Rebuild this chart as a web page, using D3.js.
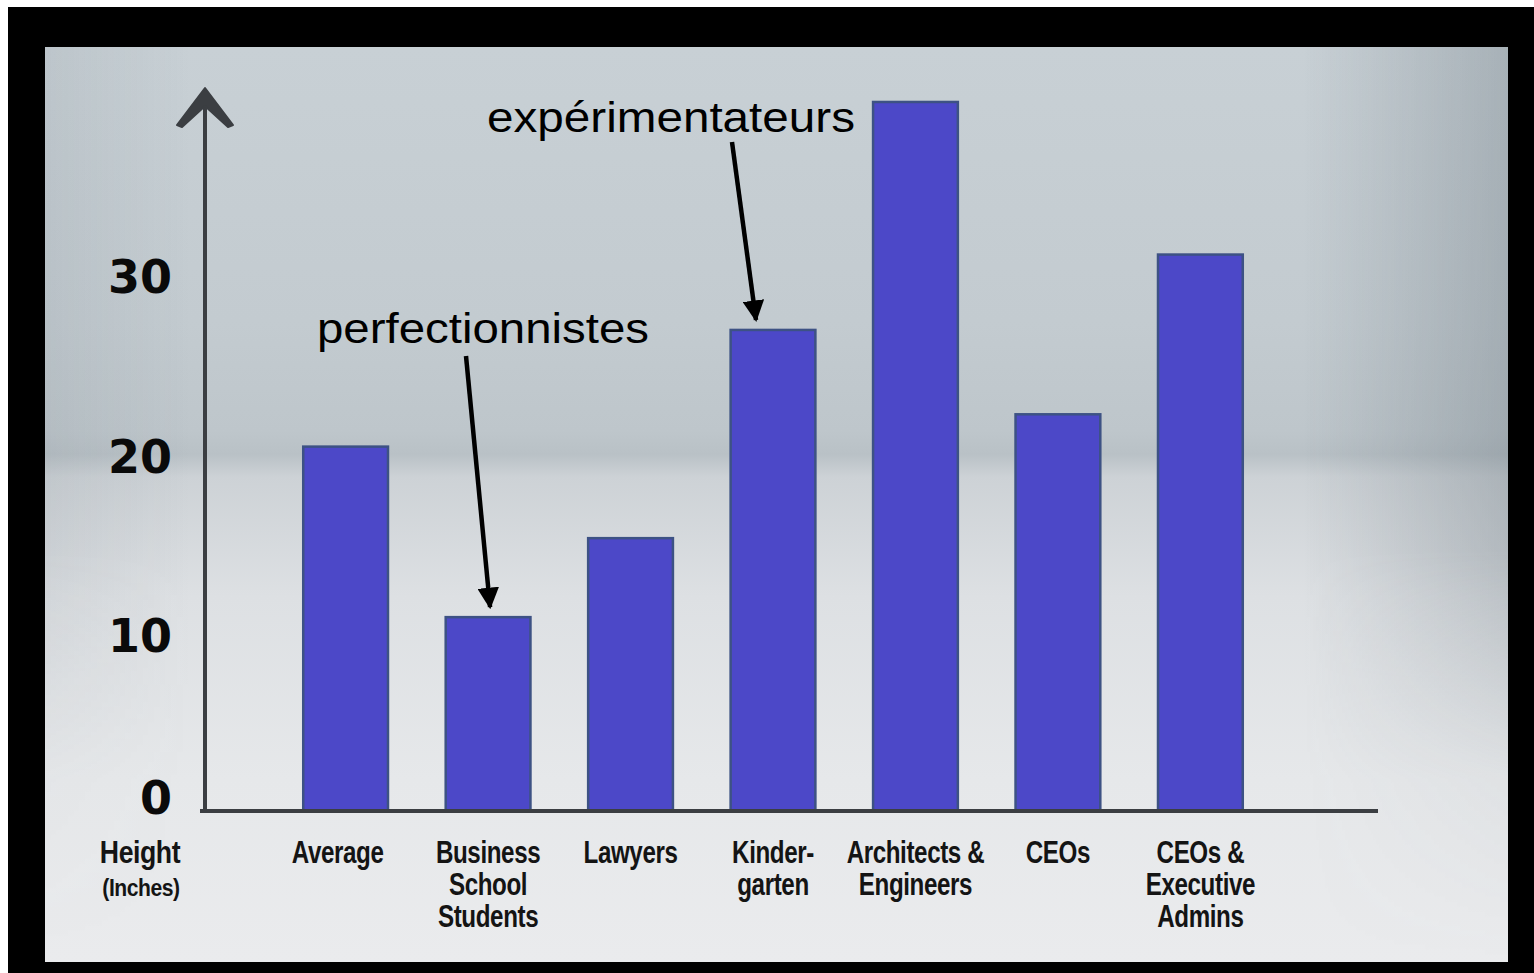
<!DOCTYPE html>
<html>
<head>
<meta charset="utf-8">
<script src="https://cdn.jsdelivr.net/npm/d3@7"></script>
<style>
  html, body { margin: 0; padding: 0; background: #ffffff; }
  svg { display: block; }
</style>
</head>
<body>
<svg id="chart" width="1534" height="973"></svg>
<script>
// Chart data
const categories = ["Average", "Business School Students", "Lawyers", "Kindergarten",
                    "Architects & Engineers", "CEOs", "CEOs & Executive Admins"];
const categoryLines = [["Average"], ["Business", "School", "Students"], ["Lawyers"],
                       ["Kinder-", "garten"], ["Architects &", "Engineers"], ["CEOs"],
                       ["CEOs &", "Executive", "Admins"]];
const heights = [20.3, 10.8, 15.2, 26.8, 39.5, 22.1, 31.0];
const tickValues = [0, 10, 20, 30];
const axisTitle = ["Height", "(Inches)"];
const annotations = [
  { text: "perfectionnistes", category: "Business School Students" },
  { text: "expérimentateurs", category: "Kindergarten" }
];

const svg = d3.select("#chart");
const defs = svg.append("defs");

// Panel background gradients
const vg = defs.append("linearGradient").attr("id", "bgV")
  .attr("x1", 0).attr("y1", 0).attr("x2", 0).attr("y2", 1);
[[0, "#c8d0d5"], [0.3, "#c3cbd0"], [0.42, "#bec6cb"], [0.445, "#b9c1c6"],
 [0.47, "#cdd2d6"], [0.6, "#dde0e3"], [0.8, "#e6e8ea"], [1, "#eaebed"]]
  .forEach(([o, c]) => vg.append("stop").attr("offset", o).attr("stop-color", c));

const hg = defs.append("linearGradient").attr("id", "bgH")
  .attr("x1", 0).attr("y1", 0).attr("x2", 1).attr("y2", 0);
[[0, "#5d6a74", 0.1], [0.1, "#5d6a74", 0], [0.86, "#5d6a74", 0], [1, "#55636d", 0.28]]
  .forEach(([o, c, a]) => hg.append("stop").attr("offset", o).attr("stop-color", c).attr("stop-opacity", a));

const fadeMask = defs.append("linearGradient").attr("id", "fadeV")
  .attr("x1", 0).attr("y1", 0).attr("x2", 0).attr("y2", 1);
[[0, "#fff", 1], [0.55, "#fff", 1], [0.8, "#fff", 0.15], [1, "#fff", 0]]
  .forEach(([o, c, a]) => fadeMask.append("stop").attr("offset", o).attr("stop-color", c).attr("stop-opacity", a));
defs.append("mask").attr("id", "sideMask")
  .append("rect").attr("x", 45).attr("y", 47).attr("width", 1463).attr("height", 915)
  .attr("fill", "url(#fadeV)");

// Frame and panel
svg.append("rect").attr("x", 8).attr("y", 7).attr("width", 1526).attr("height", 966).attr("fill", "#000");
svg.append("rect").attr("x", 45).attr("y", 47).attr("width", 1463).attr("height", 915).attr("fill", "url(#bgV)");
svg.append("rect").attr("x", 45).attr("y", 47).attr("width", 1463).attr("height", 915)
  .attr("fill", "url(#bgH)").attr("mask", "url(#sideMask)");

// Scales
const x = d3.scaleBand().domain(categories).range([232, 1314])
  .paddingInner(0.405).paddingOuter(0.5);
const y = d3.scaleLinear().domain([0, 40]).range([811, 93]);

// Bars
svg.append("g").selectAll("rect").data(categories).join("rect")
  .attr("x", d => x(d))
  .attr("y", (d, i) => y(heights[i]))
  .attr("width", x.bandwidth())
  .attr("height", (d, i) => y(0) - y(heights[i]))
  .attr("fill", "#4c48c8")
  .attr("stroke", "#3d5284")
  .attr("stroke-width", 2.5);

// Y axis: tick labels only, the axis line is drawn as an arrow below
const yAxis = svg.append("g").attr("transform", "translate(205,0)")
  .call(d3.axisLeft(y).tickValues(tickValues).tickSize(0).tickPadding(33).tickFormat(d3.format("d")));
yAxis.select(".domain").remove();
yAxis.selectAll(".tick text")
  .attr("font-family", "'DejaVu Sans', sans-serif")
  .attr("font-weight", "bold")
  .attr("font-size", 46)
  .attr("fill", "#0a0a0a")
  .attr("dy", d => d === 0 ? "0.35em" : "0.44em")
  .attr("transform", d => d === 0 ? "translate(0,-14)" : null);

// Axis lines
const axisColor = "#3b3e42";
svg.append("line").attr("x1", 205).attr("x2", 205).attr("y1", y(0) + 2).attr("y2", 92)
  .attr("stroke", axisColor).attr("stroke-width", 4);
svg.append("path")
  .attr("d", "M205,88 L233,125 L228,127 L205,106 L182,127 L177,125 Z")
  .attr("fill", axisColor).attr("stroke", axisColor).attr("stroke-width", 2).attr("stroke-linejoin", "round");
svg.append("line").attr("x1", 200).attr("x2", 1378).attr("y1", y(0)).attr("y2", y(0))
  .attr("stroke", axisColor).attr("stroke-width", 4);

// Condensed bold labels: a bold sans squeezed horizontally
const catFont = "'Liberation Sans', Arial, sans-serif";
function condensedText(parent, cx, by, str, size, squeeze) {
  return parent.append("text")
    .attr("transform", `translate(${cx},${by}) scale(${squeeze},1)`)
    .attr("text-anchor", "middle")
    .attr("font-family", catFont)
    .attr("font-weight", "bold")
    .attr("font-size", size)
    .attr("letter-spacing", -0.5)
    .attr("fill", "#141414")
    .text(str);
}

// Category labels
const catGroup = svg.append("g");
categories.forEach((c, i) => {
  const cx = x(c) + x.bandwidth() / 2 - (i === 0 ? 8 : 0);
  categoryLines[i].forEach((line, j) => condensedText(catGroup, cx, 863 + 32 * j, line, 31, 0.78));
});

// Axis title
condensedText(svg, 140, 863, axisTitle[0], 31, 0.86);
condensedText(svg, 141, 896, axisTitle[1], 24, 0.88);

// Annotations with arrows pointing at bar tops
defs.append("marker").attr("id", "head").attr("viewBox", "0 0 10 10")
  .attr("refX", 9).attr("refY", 5).attr("markerWidth", 4.8).attr("markerHeight", 4.8)
  .attr("markerUnits", "strokeWidth").attr("orient", "auto")
  .append("path").attr("d", "M0,0 L10,5 L0,10 Z").attr("fill", "#000");

const annLayout = [
  { tx: 317, ty: 343, len: 332, start: [466, 356], tipDx: 2 },
  { tx: 487, ty: 132, len: 368, start: [732, 142], tipDx: -17 }
];
annotations.forEach((a, i) => {
  const L = annLayout[i];
  const idx = categories.indexOf(a.category);
  svg.append("text").attr("x", L.tx).attr("y", L.ty)
    .attr("font-family", "'Liberation Sans', Arial, sans-serif")
    .attr("font-size", 42)
    .attr("textLength", L.len).attr("lengthAdjust", "spacingAndGlyphs")
    .attr("fill", "#000").text(a.text);
  const tipX = x(a.category) + x.bandwidth() / 2 + L.tipDx;
  const tipY = y(heights[idx]) - 10;
  svg.append("line")
    .attr("x1", L.start[0]).attr("y1", L.start[1])
    .attr("x2", tipX).attr("y2", tipY)
    .attr("stroke", "#000").attr("stroke-width", 4.5)
    .attr("marker-end", "url(#head)");
});
</script>
</body>
</html>
